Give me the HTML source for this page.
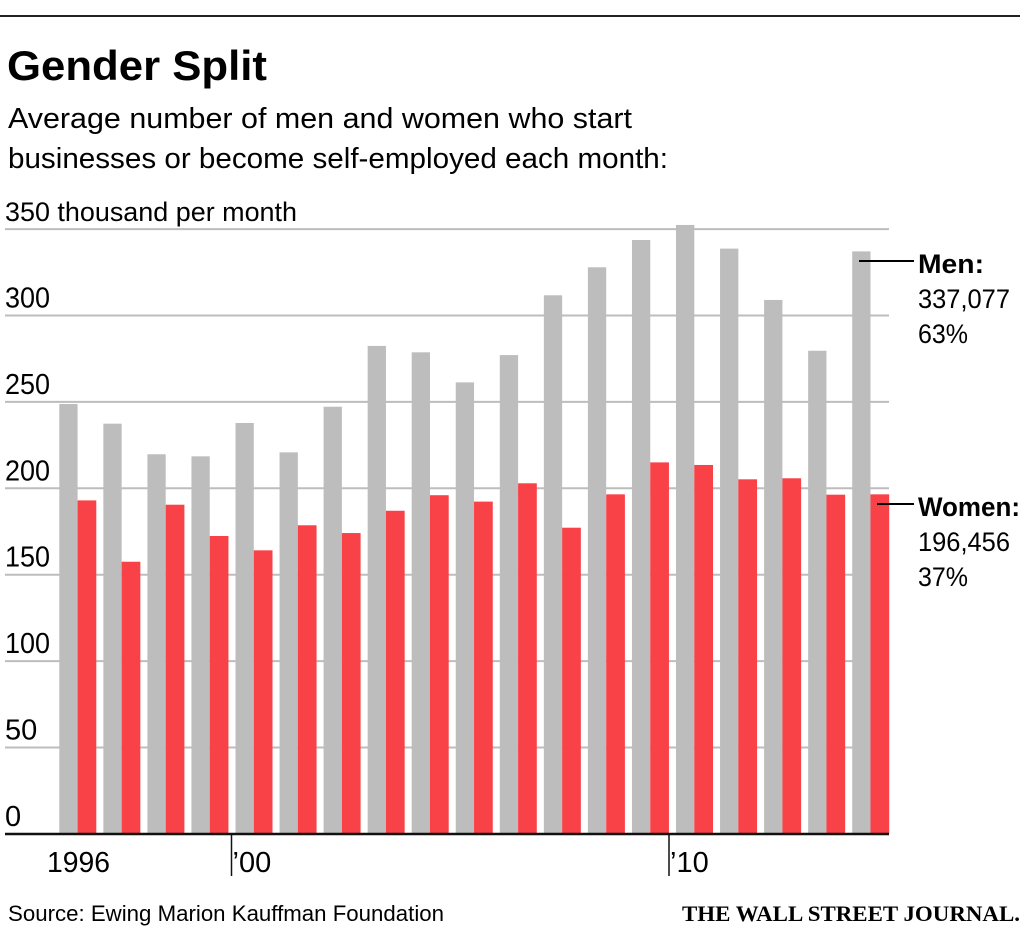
<!DOCTYPE html>
<html><head><meta charset="utf-8"><style>
body{margin:0;background:#fff;width:1024px;height:932px;overflow:hidden}
svg{display:block;font-family:"Liberation Sans",sans-serif}
</style></head><body>
<svg id="c" width="1024" height="932">
<line x1="0" y1="16" x2="1020" y2="16" stroke="#222" stroke-width="2"/>
<text x="7" y="80" font-size="42" font-weight="bold" textLength="260" lengthAdjust="spacingAndGlyphs">Gender Split</text>
<text x="8" y="128" font-size="29" textLength="624" lengthAdjust="spacingAndGlyphs">Average number of men and women who start</text>
<text x="8" y="168" font-size="29" textLength="660" lengthAdjust="spacingAndGlyphs">businesses or become self-employed each month:</text>
<g id="grid"></g>
<g id="bars"></g>
<g id="axis"></g>
<line x1="859" y1="261" x2="914" y2="261" stroke="#000" stroke-width="2"/>
<text x="918" y="273" font-size="27" font-weight="bold" textLength="66" lengthAdjust="spacingAndGlyphs">Men:</text>
<text x="918" y="308" font-size="27" textLength="92" lengthAdjust="spacingAndGlyphs">337,077</text>
<text x="918" y="343" font-size="27" textLength="50" lengthAdjust="spacingAndGlyphs">63%</text>
<line x1="877" y1="504" x2="914" y2="504" stroke="#000" stroke-width="2"/>
<text x="918" y="516" font-size="27" font-weight="bold" textLength="102" lengthAdjust="spacingAndGlyphs">Women:</text>
<text x="918" y="551" font-size="27" textLength="92" lengthAdjust="spacingAndGlyphs">196,456</text>
<text x="918" y="586" font-size="27" textLength="50" lengthAdjust="spacingAndGlyphs">37%</text>
<text x="8" y="921" font-size="22" textLength="436" lengthAdjust="spacingAndGlyphs">Source: Ewing Marion Kauffman Foundation</text>
<text x="1020" y="921" font-size="22" font-weight="bold" text-anchor="end" font-family="Liberation Serif,serif" textLength="338" lengthAdjust="spacingAndGlyphs">THE WALL STREET JOURNAL.</text>
</svg>
<script>
const years=[1996,1997,1998,1999,2000,2001,2002,2003,2004,2005,2006,2007,2008,2009,2010,2011,2012,2013,2014];
const men=[248.8,237.4,219.7,218.5,237.8,220.8,247.2,282.4,278.7,261.3,277.1,311.7,327.9,343.7,352.4,338.7,309,279.6,337.1];
const women=[193,157.5,190.5,172.4,164.1,178.6,174.1,187,196,192.3,202.9,177.2,196.5,215,213.5,205.2,205.8,196.3,196.5];
const yTicks=[0,50,100,150,200,250,300];
const xLabels=[{i:0,t:"1996"},{i:4,t:"\u201900"},{i:14,t:"\u201910"}];
const NS="http://www.w3.org/2000/svg";
const y=v=>833.9-v*1.728;
const x=i=>59.3+i*44.05;
function mk(tag,attrs,parent){const e=document.createElementNS(NS,tag);for(const k in attrs)e.setAttribute(k,attrs[k]);document.getElementById(parent).appendChild(e);return e;}
yTicks.concat([350]).forEach(v=>{
  if(v>0){const l=mk('line',{x1:5,x2:889,y1:y(v),y2:y(v),stroke:'#bdbdbd','stroke-width':2},'grid');
  
  }
});
yTicks.forEach(v=>{
  const t=mk('text',{x:5,y:y(v)-8,'font-size':29},'grid');t.textContent=v;
  if(v>=100){t.setAttribute('textLength',45);t.setAttribute('lengthAdjust','spacingAndGlyphs');}
  
  
});
const t350=mk('text',{x:5,y:y(350)-8,'font-size':27,textLength:292,lengthAdjust:'spacingAndGlyphs'},'grid');t350.textContent="350 thousand per month";


years.forEach((yr,i)=>{
  const g=mk('rect',{x:x(i),y:y(men[i]),width:18.3,height:y(0)-y(men[i]),fill:'#bdbdbd'},'bars');
  
  
  const r=mk('rect',{x:x(i)+18.3,y:y(women[i]),width:18.7,height:y(0)-y(women[i]),fill:'#f94148'},'bars');
  
  
});
const ax=mk('line',{x1:5,x2:889,y1:834,y2:834,stroke:'#111','stroke-width':2.5},'axis');


xLabels.forEach(d=>{
  const tx=x(d.i)-(d.i>10?7:4);
  if(d.i>0){const tk=mk('line',{x1:tx,x2:tx,y1:834,y2:876,stroke:'#111','stroke-width':1.5},'axis');
  
  }
  const lt=mk('text',{x:d.i>0?tx+1:47,y:872,'font-size':29},'axis');lt.textContent=d.t;
  if(d.i===0){lt.setAttribute('textLength',63);lt.setAttribute('lengthAdjust','spacingAndGlyphs');}
  
  
});
</script>
</body></html>
